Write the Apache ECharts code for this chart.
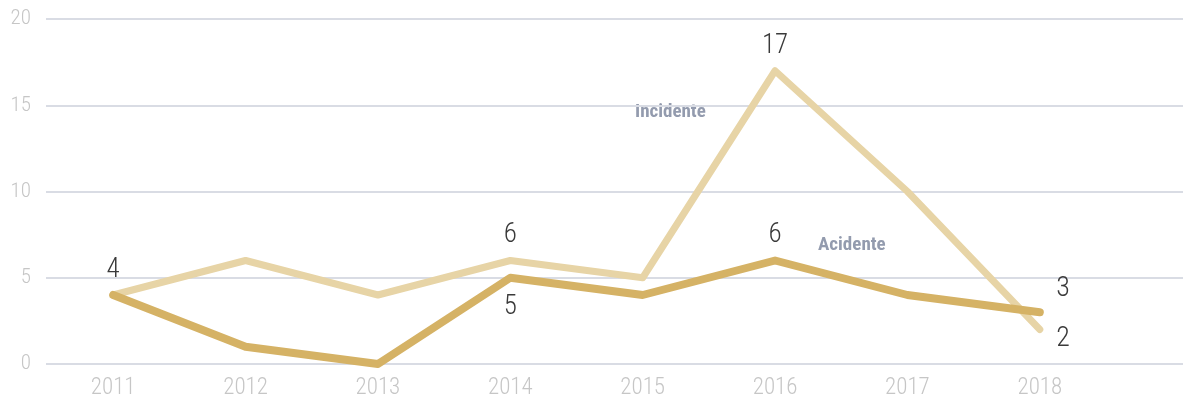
<!DOCTYPE html>
<html>
<head>
<meta charset="utf-8">
<script src="https://cdn.jsdelivr.net/npm/echarts@6/dist/echarts.min.js"></script>
<style>
  html, body { margin: 0; padding: 0; background: #ffffff; }
  #chart { width: 1183px; height: 403px; }
</style>
</head>
<body>
<div id="chart"></div>
<script>
// Yearly counts, 2011–2018
const years = ['2011', '2012', '2013', '2014', '2015', '2016', '2017', '2018'];
const incidente = [4, 6, 4, 6, 5, 17, 10, 2];
const acidente = [4, 1, 0, 5, 4, 6, 4, 3];
const yTicks = [0, 5, 10, 15, 20];

// Which points carry a value label, and where it sits
const incidenteLabels = { 3: 'top', 5: 'top', 7: 'rightDown' };
const acidenteLabels = { 0: 'top', 3: 'bottom', 5: 'top', 7: 'rightUp' };

const thinFont = '"Roboto Condensed", "Liberation Sans Narrow", Roboto, sans-serif';

function labelFor(pos) {
  const base = {
    show: true,
    formatter: '{c}',
    color: '#3a3a3a',
    fontFamily: thinFont,
    fontWeight: 300,
    fontSize: 27,
    distance: 11
  };
  if (pos === 'rightUp') return Object.assign(base, { position: 'right', fontSize: 28, distance: 8, offset: [8, -23] });
  if (pos === 'rightDown') return Object.assign(base, { position: 'right', fontSize: 28, distance: 8, offset: [8, 9] });
  if (pos === 'bottom') return Object.assign(base, { position: 'bottom', distance: 15 });
  return Object.assign(base, { position: pos });
}

function buildData(values, labels) {
  return values.map((v, i) => labels[i]
    ? { value: v, label: labelFor(labels[i]) }
    : { value: v });
}

const chart = echarts.init(document.getElementById('chart'));
chart.setOption({
  animation: false,
  backgroundColor: '#ffffff',
  grid: [
    // plotting area for the two lines
    { left: 47, right: 77, top: 19, bottom: 39 },
    // full-width area carrying the horizontal rules and y labels
    { left: 46, right: 0, top: 19, bottom: 39 }
  ],
  xAxis: [
    {
      gridIndex: 0,
      type: 'category',
      data: years,
      boundaryGap: true,
      axisLine: { show: false },
      axisTick: { show: false },
      axisLabel: {
        color: '#c6c6c6',
        fontFamily: thinFont,
        fontWeight: 300,
        fontSize: 23,
        margin: 13
      }
    },
    { gridIndex: 1, type: 'value', show: false }
  ],
  yAxis: [
    { gridIndex: 0, type: 'value', min: 0, max: 20, interval: 5, show: false },
    {
      gridIndex: 1,
      type: 'value',
      min: yTicks[0],
      max: yTicks[yTicks.length - 1],
      interval: 5,
      axisLine: { show: false },
      axisTick: { show: false },
      axisLabel: {
        color: '#c6c6c6',
        fontFamily: thinFont,
        fontWeight: 300,
        fontSize: 21,
        margin: 15
      },
      splitLine: { lineStyle: { color: '#d9dce4', width: 2 } }
    }
  ],
  series: [
    {
      name: 'Incidente',
      type: 'line',
      xAxisIndex: 0,
      yAxisIndex: 0,
      data: buildData(incidente, incidenteLabels),
      symbol: 'circle',
      symbolSize: 1,
      showAllSymbol: true,
      itemStyle: { color: 'rgba(0,0,0,0)' },
      z: 2,
      lineStyle: { color: '#e7d4a6', width: 7, cap: 'round', join: 'round' }
    },
    {
      name: 'Acidente',
      type: 'line',
      xAxisIndex: 0,
      yAxisIndex: 0,
      data: buildData(acidente, acidenteLabels),
      symbol: 'circle',
      symbolSize: 1,
      showAllSymbol: true,
      itemStyle: { color: 'rgba(0,0,0,0)' },
      z: 3,
      lineStyle: { color: '#d5b265', width: 8, cap: 'round', join: 'round' }
    }
  ],
  graphic: [
    {
      type: 'text',
      left: 635,
      top: 103,
      style: {
        text: 'Incidente',
        fill: '#939bae',
        font: 'bold 19px "Roboto Condensed", Roboto, sans-serif'
      }
    },
    {
      type: 'text',
      left: 818,
      top: 236,
      style: {
        text: 'Acidente',
        fill: '#939bae',
        font: 'bold 19px "Roboto Condensed", Roboto, sans-serif'
      }
    }
  ]
});
</script>
</body>
</html>
